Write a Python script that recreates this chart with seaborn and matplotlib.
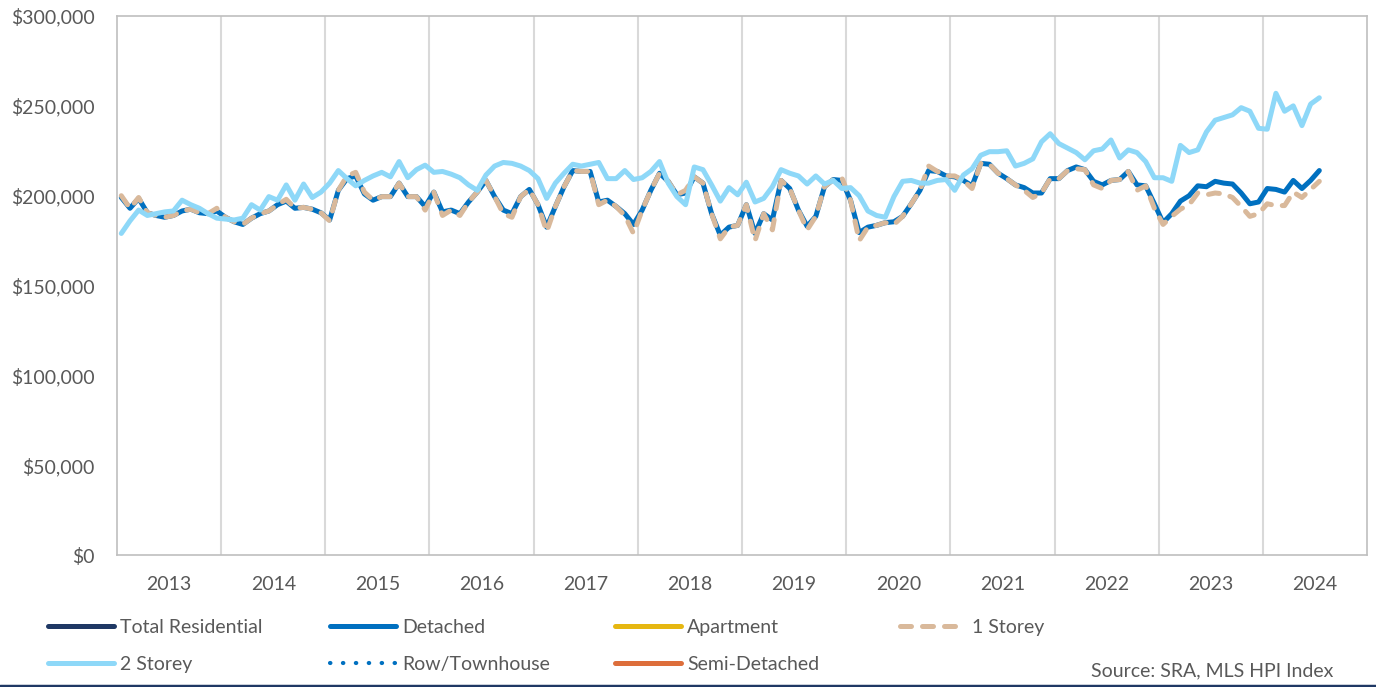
import numpy as np
import pandas as pd
import seaborn as sns
import matplotlib.pyplot as plt
from matplotlib.lines import Line2D
from matplotlib.ticker import FuncFormatter

# monthly HPI benchmark prices ($000s), Jan 2013 - Jul 2024
years = ['2013', '2014', '2015', '2016', '2017', '2018',
         '2019', '2020', '2021', '2022', '2023', '2024']

detached = [199, 193, 198.5, 190.5, 189, 188, 189, 191.5, 192.5, 190.5, 190, 191.5,
            188, 185.5, 184, 187.5, 190, 191.5, 195, 197, 193, 193.5, 192.5, 190.5,
            186.5, 203, 209.5, 211, 201, 197.5, 199.5, 199.5, 207, 199.5, 199.5, 194,
            202, 191, 192, 190, 196.5, 202, 208.5, 199.5, 192, 190, 199.5, 203.5,
            195, 182.5, 194, 205, 214, 213.5, 213.5, 196.5, 197.5, 194, 190, 184,
            192, 203, 212.5, 208, 200.5, 201.5, 210.5, 207, 190, 178, 182.5, 183.5,
            195, 179, 190, 186.5, 208.5, 204, 192, 183, 188.5, 205, 209, 208.5,
            197.5, 179.5, 182.5, 183.5, 185, 185.5, 188.5, 195.5, 203, 214, 213.5, 211,
            210.5, 208.5, 205.5, 218, 217.5, 212.5, 209.5, 206, 204.5, 201.5, 201.5, 209.5,
            209.5, 214, 216, 214.5, 208, 206, 208.5, 209, 213.5, 206, 205.5, 195.5,
            185, 190, 197, 200, 205.5, 205, 208, 207, 206.5, 201.5, 195.5, 196.5,
            204, 203.5, 202, 208.5, 204, 208.5, 214]

one_storey = [200, 193, 199, 190.5, 189, 188, 189, 191.5, 192.5, 190.5, 190, 193,
              188, 185.5, 184, 187.5, 190, 191.5, 195, 198, 193, 193.5, 192.5, 190.5,
              186, 203, 211, 213, 202, 197.5, 199.5, 199.5, 207, 199.5, 199.5, 192,
              202, 189, 192, 189, 196.5, 202, 208.5, 199.5, 190, 188, 199.5, 203.5,
              195, 180, 194, 205, 214, 213.5, 213.5, 195, 197.5, 194, 189, 179,
              192, 203, 212.5, 208, 200.5, 203, 210.5, 207, 190, 176, 182.5, 183.5,
              195, 175, 190, 181, 208.5, 204, 192, 181, 188.5, 205, 209, 210,
              197.5, 175, 182.5, 183.5, 185, 184, 188.5, 195.5, 203, 216.5, 213.5, 211,
              211, 208.5, 204, 218, 217.5, 212.5, 209.5, 206, 203, 199, 201.5, 209.5,
              209.5, 214, 215, 214.5, 206, 204, 208.5, 209, 213.5, 203, 205.5, 193,
              184, 188.5, 192.5, 195, 201.5, 200.5, 201.5, 201, 199, 194, 188.5, 190,
              195.5, 194.5, 194.5, 202, 199, 203.5, 208]

two_storey = [179, 186, 192, 189, 190, 191, 191.5, 197.5, 195, 193, 190, 187.5,
              187, 186.5, 187.5, 195, 192, 199.5, 197.5, 206, 197.5, 206.5, 199, 202,
              207, 214, 209.5, 205.5, 208.5, 211, 213, 210.5, 219, 210, 214.5, 217,
              213, 213.5, 212, 210, 206, 203, 211.5, 216.5, 218.5, 218, 216.5, 214,
              209.5, 198.5, 207, 212.5, 217.5, 216.5, 217.5, 218.5, 209.5, 209.5, 214, 209,
              210, 213.5, 219, 207, 199.5, 195, 216, 214.5, 206, 197, 204.5, 200.5,
              207.5, 196.5, 198.5, 205, 214.5, 212.5, 211, 206.5, 211, 206.5, 208.5, 204,
              204.5, 200, 191.5, 189, 188, 199.5, 208, 208.5, 207, 207, 208.5, 209,
              203, 211.5, 215, 222.5, 224.5, 224.5, 225, 216.5, 218, 220.5, 230, 234.5,
              229, 226.5, 224, 220, 225, 226, 231, 221, 225.5, 224, 219, 210,
              210, 208, 228, 224, 225.5, 235.5, 242, 243.5, 245, 249, 247, 237.5,
              237, 257, 247, 250, 239, 251, 254.5]

months = np.arange(len(detached))
df = pd.DataFrame({'month': months,
                   'Detached': np.array(detached) * 1000,
                   '1 Storey': np.array(one_storey) * 1000,
                   '2 Storey': np.array(two_storey) * 1000})

sns.set_style('white')
plt.rcParams['font.family'] = ['Lato', 'DejaVu Sans']
text_col = '#595959'
dash = (0, (2.2, 2.2))

fig, ax = plt.subplots(figsize=(13.76, 6.87), dpi=100)
fig.subplots_adjust(left=0.085, right=0.9935, top=0.9767, bottom=0.192)

sns.lineplot(data=df, x='month', y='Detached', color='#0070C0', linewidth=3.6, ax=ax)
sns.lineplot(data=df, x='month', y='1 Storey', color='#D9B99B', linewidth=3.6,
             linestyle=dash, dash_capstyle='round', ax=ax)
sns.lineplot(data=df, x='month', y='2 Storey', color='#8ED8F8', linewidth=3.6, ax=ax)

ax.set_xlim(-0.5, 143.5)
ax.set_ylim(0, 300000)
ax.set_yticks(np.arange(0, 300001, 50000))
ax.yaxis.set_major_formatter(FuncFormatter(lambda v, p: f'${v:,.0f}'))
ax.set_xticks(np.arange(11.5, 143, 12))
ax.set_xticklabels([])
ax.set_xticks(np.arange(5.5, 144, 12), minor=True)
ax.set_xticklabels(years, minor=True)
ax.tick_params(axis='both', which='both', length=0, labelsize=14, labelcolor=text_col)
ax.tick_params(axis='y', pad=16)
ax.tick_params(axis='x', which='minor', pad=15)
ax.grid(axis='x', which='major', color='#D9D9D9', linewidth=1.5)
ax.grid(axis='y', visible=False)
for s in ax.spines.values():
    s.set_color('#BFBFBF')
    s.set_linewidth(1.2)
ax.set_xlabel('')
ax.set_ylabel('')

# legend, four columns laid out like the original
cols = [
    [(Line2D([], [], color='#1F3864', lw=3.6, solid_capstyle='round'), 'Total Residential'),
     (Line2D([], [], color='#8ED8F8', lw=3.6, solid_capstyle='round'), '2 Storey')],
    [(Line2D([], [], color='#0070C0', lw=3.6, solid_capstyle='round'), 'Detached'),
     (Line2D([], [], color='#0070C0', lw=3.0, linestyle=(0, (0.1, 3.0)), dash_capstyle='round'), 'Row/Townhouse')],
    [(Line2D([], [], color='#E6B711', lw=3.6, solid_capstyle='round'), 'Apartment'),
     (Line2D([], [], color='#DD6E3B', lw=3.6, solid_capstyle='round'), 'Semi-Detached')],
    [(Line2D([], [], color='#D9B99B', lw=3.6, linestyle=dash, dash_capstyle='round'), '1 Storey')],
]
col_x = [0.0349, 0.2398, 0.447, 0.654]
for x0, entries in zip(col_x, cols):
    leg = fig.legend([h for h, l in entries], [l for h, l in entries],
                     loc='upper left', bbox_to_anchor=(x0, 0.0995), frameon=False,
                     fontsize=14, handlelength=3.4, handletextpad=0.3,
                     labelspacing=1.05, borderpad=0, borderaxespad=0, labelcolor=text_col)

fig.text(0.9688, 0.0233, 'Source: SRA, MLS HPI Index', ha='right', va='center',
         fontsize=14, color=text_col)
fig.add_artist(Line2D([0, 1], [0.002, 0.002], transform=fig.transFigure,
                      color='#1F3864', linewidth=2.5))

plt.savefig('out.png', dpi=100)
